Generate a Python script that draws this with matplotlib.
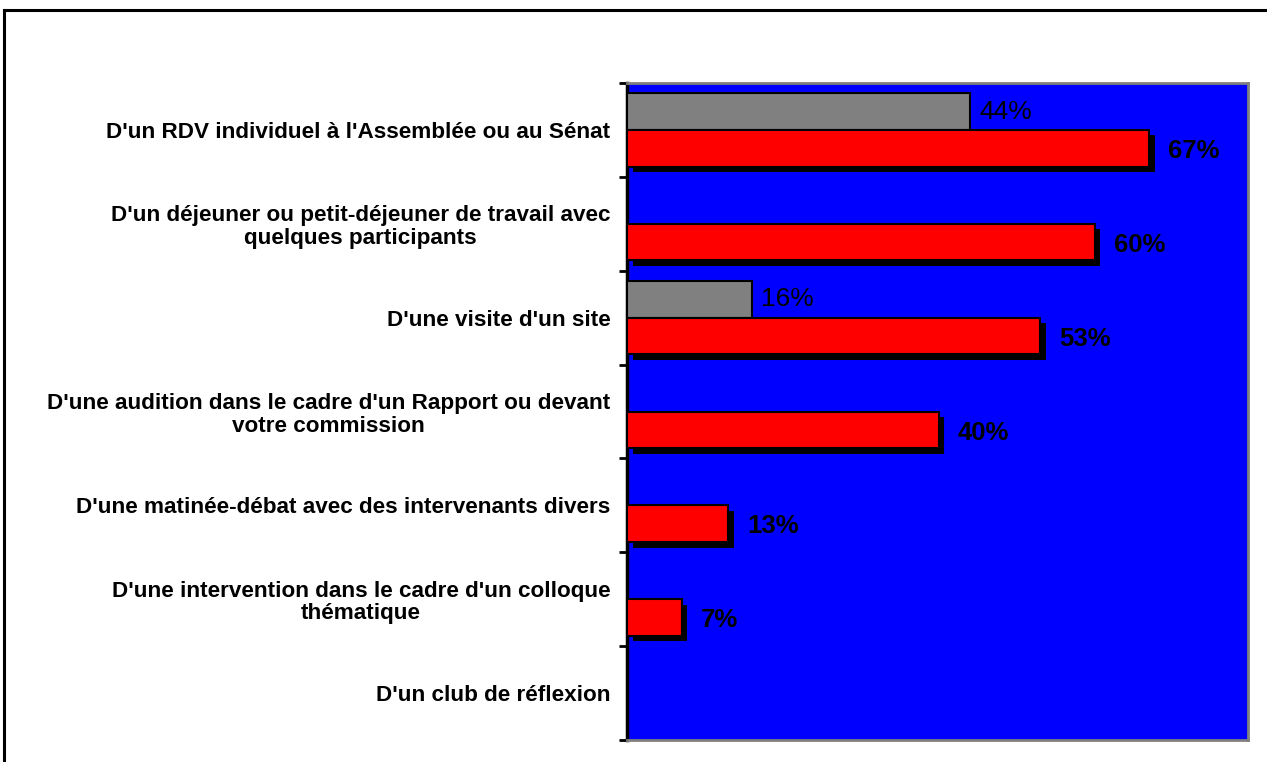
import matplotlib
matplotlib.use('Agg')
import matplotlib.pyplot as plt
import matplotlib.patheffects as pe
from matplotlib.lines import Line2D
import numpy as np

plt.rcParams['font.family'] = ['Liberation Sans', 'DejaVu Sans']

# === Données ===
categories = [
    "D'un RDV individuel à l'Assemblée ou au Sénat",
    "D'un déjeuner ou petit-déjeuner de travail avec\nquelques participants",
    "D'une visite d'un site",
    "D'une audition dans le cadre d'un Rapport ou devant\nvotre commission",
    "D'une matinée-débat avec des intervenants divers",
    "D'une intervention dans le cadre d'un colloque\nthématique",
    "D'un club de réflexion",
]
gray_vals = [44, 0, 16, 0, 0, 0, 0]
red_vals = [67, 60, 53, 40, 13, 7, 0]

fig = plt.figure(figsize=(12.67, 7.62), dpi=100)
ax = fig.add_axes([627 / 1267, 1 - 740 / 762, (1248 - 627) / 1267, (740 - 83) / 762])
ax.set_facecolor('#0000FF')

y = np.arange(len(categories))
h = 0.39

# barres grises (en haut de chaque catégorie)
for yi, v in zip(y, gray_vals):
    if v > 0:
        ax.barh(yi - h / 2, v, height=h, color='#808080', edgecolor='black', linewidth=1.5, zorder=3)
        ax.annotate(f"{v}%", (v, yi - h / 2), xytext=(7, 0), textcoords='offset points',
                    va='center', ha='left', fontsize=19, color='black')

# barres rouges avec ombre
for yi, v in zip(y, red_vals):
    if v > 0:
        b = ax.barh(yi + h / 2, v, height=h, color='#FF0000', edgecolor='black', linewidth=1.5, zorder=3)
        for p in b.patches:
            p.set_path_effects([pe.SimplePatchShadow(offset=(4, -4), shadow_rgbFace='black', alpha=1), pe.Normal()])
        ax.annotate(f"{v}%", (v, yi + h / 2), xytext=(14, -2), textcoords='offset points',
                    va='center', ha='left', fontsize=18.5, fontweight='bold', color='black')

ax.set_xlim(0, 79.7)
ax.set_ylim(len(categories) - 0.5, -0.5)

# ticks : traits aux limites, étiquettes au centre
ax.set_yticks(np.arange(-0.5, len(categories), 1.0))
ax.set_yticklabels([])
ax.tick_params(axis='y', which='major', direction='out', length=6, width=2, color='black')
ax.set_yticks(y, minor=True)
ax.set_yticklabels(categories, minor=True, fontsize=16.2, fontweight='bold')
ax.tick_params(axis='y', which='minor', length=0, pad=12)
for lab in ax.get_yticklabels(minor=True):
    lab.set_multialignment('center')
    lab.set_linespacing(1.1)
ax.set_xticks([])

for s in ['top', 'right', 'bottom']:
    ax.spines[s].set_color('#808080')
    ax.spines[s].set_linewidth(2)
ax.spines['left'].set_color('black')
ax.spines['left'].set_linewidth(2.5)

# cadre extérieur (haut et gauche)
fig.add_artist(Line2D([3.5 / 1267, 1], [1 - 9.5 / 762, 1 - 9.5 / 762], color='black', lw=2.2, transform=fig.transFigure))
fig.add_artist(Line2D([3.5 / 1267, 3.5 / 1267], [0, 1 - 9.5 / 762], color='black', lw=2.2, transform=fig.transFigure))

fig.savefig('out.png', dpi=100)
